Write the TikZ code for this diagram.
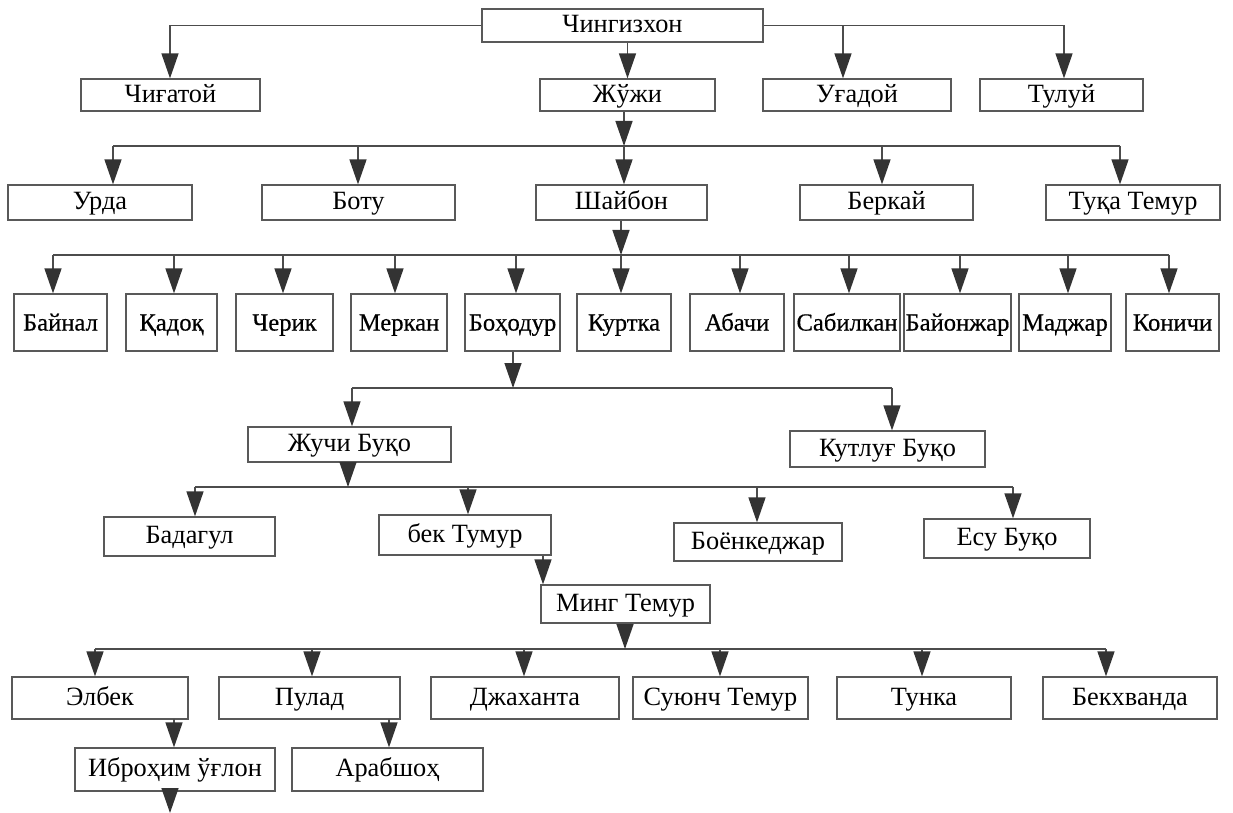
\documentclass[tikz,border=0pt]{standalone}
\usepackage{fontspec}
\setmainfont{Liberation Serif}
\usepackage{xcolor}
\usetikzlibrary{arrows.meta}

\begin{document}
\begin{tikzpicture}[
  x=0.02cm, y=-0.02cm,
  font=\fontsize{15}{17}\selectfont,
  box/.style 2 args={draw=black!65, line width=0.7pt, fill=white, inner sep=0pt,
    text height=2ex, text depth=0.2ex,
    minimum width=#1*0.02cm, minimum height=#2*0.02cm},
  small/.style={font=\fontsize{14}{16}\selectfont\addfontfeatures{FakeBold=0.5},
    text height=2.2ex},
  bus/.style={draw=black!70, line width=0.8pt},
  edge/.style={draw=black!70, line width=0.8pt,
    -{Triangle[length=0.5cm,width=0.34cm,color=black!80]}}
  ]
\useasboundingbox (0,0) rectangle (1233,813);

% Root node
\node[box={281}{33}] (chingiz) at (622.5,25.5) {Чингизхон};

% Sons
\node[box={179}{32}] (chigatoy) at (170.5,95) {Чиғатой};
\node[box={175}{32}] (juji) at (627.5,95) {Жўжи};
\node[box={188}{32}] (ugadoy) at (857,95) {Уғадой};
\node[box={163}{32}] (tuluy) at (1061.5,95) {Тулуй};

\coordinate (b0w) at (170,25.5);
\coordinate (b0u) at (843,25.5);
\coordinate (b0e) at (1064,25.5);
\draw[bus] (b0w) -- (chingiz.west) (chingiz.east) -- (b0e);
\draw[edge] (b0w) -- (b0w |- chigatoy.north);
\draw[edge] (b0u) -- (b0u |- ugadoy.north);
\draw[edge] (b0e) -- (b0e |- tuluy.north);
\draw[edge] (juji.north |- chingiz.south) -- (juji.north);

% Children of Juji
\node[box={184}{35}] (urda) at (100,202.5) {Урда};
\node[box={193}{35}] (botu) at (358.5,202.5) {Боту};
\node[box={171}{35}] (shaybon) at (621.5,202.5) {Шайбон};
\node[box={173}{35}] (berkay) at (886.5,202.5) {Беркай};
\node[box={174}{35}] (tuqa) at (1133,202.5) {Туқа Темур};

\coordinate (b1w) at (113,146);
\coordinate (b1b) at (358,146);
\coordinate (b1s) at (624,146);
\coordinate (b1k) at (882,146);
\coordinate (b1e) at (1120,146);
\draw[bus] (b1w) -- (b1e);
\draw[edge] (juji.south -| b1s) -- (b1s);
\draw[edge] (b1w) -- (b1w |- urda.north);
\draw[edge] (b1b) -- (b1b |- botu.north);
\draw[edge] (b1s) -- (b1s |- shaybon.north);
\draw[edge] (b1k) -- (b1k |- berkay.north);
\draw[edge] (b1e) -- (b1e |- tuqa.north);

% Children of Shaybon
\node[box={93}{57},small] (baynal) at (60.5,322.5) {Байнал};
\node[box={91}{57},small] (qadoq) at (171.5,322.5) {Қадоқ};
\node[box={97}{57},small] (cherik) at (284.5,322.5) {Черик};
\node[box={96}{57},small] (merkan) at (399,322.5) {Меркан};
\node[box={95}{57},small] (bohodur) at (512.5,322.5) {Боҳодур};
\node[box={94}{57},small] (kurtka) at (624,322.5) {Куртка};
\node[box={94}{57},small] (abachi) at (737,322.5) {Абачи};
\node[box={106}{57},small] (sabilkan) at (847,322.5) {Сабилкан};
\node[box={107}{57},small] (bayonjar) at (957.5,322.5) {Байонжар};
\node[box={92}{57},small] (majar) at (1065,322.5) {Маджар};
\node[box={93}{57},small] (konichi) at (1172.5,322.5) {Коничи};

\coordinate (b2a) at (53,255);
\coordinate (b2b) at (174,255);
\coordinate (b2c) at (283,255);
\coordinate (b2d) at (395,255);
\coordinate (b2e) at (516,255);
\coordinate (b2f) at (621,255);
\coordinate (b2g) at (740,255);
\coordinate (b2h) at (849,255);
\coordinate (b2i) at (960,255);
\coordinate (b2j) at (1068,255);
\coordinate (b2k) at (1169,255);
\draw[bus] (b2a) -- (b2k);
\draw[edge] (shaybon.south -| b2f) -- (b2f);
\draw[edge] (b2a) -- (b2a |- baynal.north);
\draw[edge] (b2b) -- (b2b |- qadoq.north);
\draw[edge] (b2c) -- (b2c |- cherik.north);
\draw[edge] (b2d) -- (b2d |- merkan.north);
\draw[edge] (b2e) -- (b2e |- bohodur.north);
\draw[edge] (b2f) -- (b2f |- kurtka.north);
\draw[edge] (b2g) -- (b2g |- abachi.north);
\draw[edge] (b2h) -- (b2h |- sabilkan.north);
\draw[edge] (b2i) -- (b2i |- bayonjar.north);
\draw[edge] (b2j) -- (b2j |- majar.north);
\draw[edge] (b2k) -- (b2k |- konichi.north);

% Children of Bohodur
\node[box={203}{35}] (juchibuqo) at (349.5,444.5) {Жучи Буқо};
\node[box={195}{36}] (qutlugbuqo) at (887.5,449) {Кутлуғ Буқо};

\coordinate (b3w) at (352,388);
\coordinate (b3m) at (513,388);
\coordinate (b3e) at (892,388);
\draw[bus] (b3w) -- (b3e);
\draw[edge] (bohodur.south -| b3m) -- (b3m);
\draw[edge] (b3w) -- (b3w |- juchibuqo.north);
\draw[edge] (b3e) -- (b3e |- qutlugbuqo.north);

% Children of Juchi Buqo
\node[box={171}{39}] (badagul) at (189.5,536.5) {Бадагул};
\node[box={172}{40}] (bektumur) at (465,535) {бек Тумур};
\node[box={168}{38}] (boyonkejar) at (758,542) {Боёнкеджар};
\node[box={166}{39}] (esubuqo) at (1007,538.5) {Есу Буқо};

\coordinate (b4w) at (195,487);
\coordinate (b4m) at (348,487);
\coordinate (b4b) at (468,487);
\coordinate (b4c) at (757,487);
\coordinate (b4e) at (1013,487);
\draw[bus] (b4w) -- (b4e);
\draw[edge] (juchibuqo.south -| b4m) -- (b4m);
\draw[edge] (b4w) -- (b4w |- badagul.north);
\draw[edge] (b4b) -- (b4b |- bektumur.north);
\draw[edge] (b4c) -- (b4c |- boyonkejar.north);
\draw[edge] (b4e) -- (b4e |- esubuqo.north);

\node[box={169}{38}] (mingtemur) at (625.5,604) {Минг Темур};
\coordinate (bm) at (543,555);
\draw[edge] (bektumur.south -| bm) -- (bm |- mingtemur.north);

% Children of Ming Temur
\node[box={176}{42}] (elbek) at (100,698) {Элбек};
\node[box={181}{42}] (pulad) at (309.5,698) {Пулад};
\node[box={188}{42}] (jahanta) at (525,698) {Джаханта};
\node[box={175}{42}] (suyunch) at (720.5,698) {Суюнч Темур};
\node[box={174}{42}] (tunka) at (924,698) {Тунка};
\node[box={174}{42}] (bekhvanda) at (1130,698) {Бекхванда};

\coordinate (b5a) at (95,649);
\coordinate (b5b) at (312,649);
\coordinate (b5c) at (524,649);
\coordinate (b5m) at (625,649);
\coordinate (b5d) at (720,649);
\coordinate (b5e) at (922,649);
\coordinate (b5f) at (1106,649);
\draw[bus] (b5a) -- (b5f);
\draw[edge] (mingtemur.south -| b5m) -- (b5m);
\draw[edge] (b5a) -- (b5a |- elbek.north);
\draw[edge] (b5b) -- (b5b |- pulad.north);
\draw[edge] (b5c) -- (b5c |- jahanta.north);
\draw[edge] (b5d) -- (b5d |- suyunch.north);
\draw[edge] (b5e) -- (b5e |- tunka.north);
\draw[edge] (b5f) -- (b5f |- bekhvanda.north);

% Grandsons
\node[box={200}{43}] (ibrohim) at (175,769.5) {Иброҳим ўғлон};
\node[box={191}{43}] (arabshoh) at (387.5,769.5) {Арабшоҳ};

\coordinate (ei) at (174,719);
\coordinate (pa) at (389,719);
\coordinate (iend) at (170,813);
\draw[edge] (ei) -- (ei |- ibrohim.north);
\draw[edge] (pa) -- (pa |- arabshoh.north);
\draw[edge] (ibrohim.south -| iend) -- (iend);

\end{tikzpicture}
\end{document}
